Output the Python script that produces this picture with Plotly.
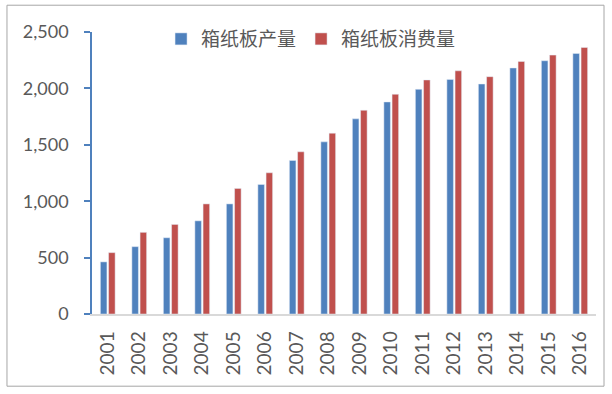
import plotly.graph_objects as go

years = [str(y) for y in range(2001, 2017)]
production = [462, 597, 676, 826, 976, 1148, 1361, 1526, 1730, 1880, 1992, 2080, 2039, 2181, 2245, 2310]
consumption = [544, 724, 794, 976, 1113, 1252, 1438, 1603, 1806, 1948, 2075, 2156, 2104, 2239, 2295, 2363]
series_names = ["箱纸板产量", "箱纸板消费量"]
y_ticks = [0, 500, 1000, 1500, 2000, 2500]
y_ticktext = ["0", "500", "1,000", "1,500", "2,000", "2,500"]

BLUE = "#4F81BD"
RED = "#C0504D"
GRAY_TXT = "#595959"

fig = go.Figure()
fig.add_trace(go.Bar(x=years, y=production, name=series_names[0], marker_color=BLUE))
fig.add_trace(go.Bar(x=years, y=consumption, name=series_names[1], marker_color=RED))

fig.update_layout(
    width=612, height=394,
    margin=dict(l=92, r=16, t=32, b=80),
    paper_bgcolor="white", plot_bgcolor="white",
    barmode="group", bargap=0.48, bargroupgap=0.2,
    font=dict(family="Lato, 'Noto Sans CJK SC'", size=18, color=GRAY_TXT),
    showlegend=True,
    legend=dict(
        orientation="h", x=0.137, xanchor="left", y=0.975, yanchor="middle",
        font=dict(family="'Noto Sans CJK SC'", size=19, color=GRAY_TXT),
        bgcolor="rgba(0,0,0,0)", itemwidth=30, traceorder="normal",
    ),
    xaxis=dict(
        type="category", showgrid=False, showline=True, linecolor="#D9D9D9", linewidth=1.5,
        ticks="", tickangle=-90, ticklabelstandoff=8,
        tickfont=dict(family="Lato", size=19, color=GRAY_TXT),
    ),
    yaxis=dict(
        range=[0, 2500], tickvals=y_ticks, ticktext=y_ticktext, showgrid=False,
        showline=True, linecolor=BLUE, linewidth=1.5, ticks="outside", ticklen=6,
        tickcolor=BLUE, tickwidth=1.5, ticklabelstandoff=12, zeroline=False,
        tickfont=dict(family="Lato", size=18, color=GRAY_TXT),
    ),
    shapes=[dict(
        type="rect", xref="paper", yref="paper",
        x0=-0.1687, x1=1.0159, y0=-0.2560, y1=1.095,
        line=dict(color="#A6A6A6", width=1), fillcolor="rgba(0,0,0,0)", layer="below",
    )],
)

fig.write_html("out.html", config={"displayModeBar": False},
               post_script="document.body.style.margin='0';")
